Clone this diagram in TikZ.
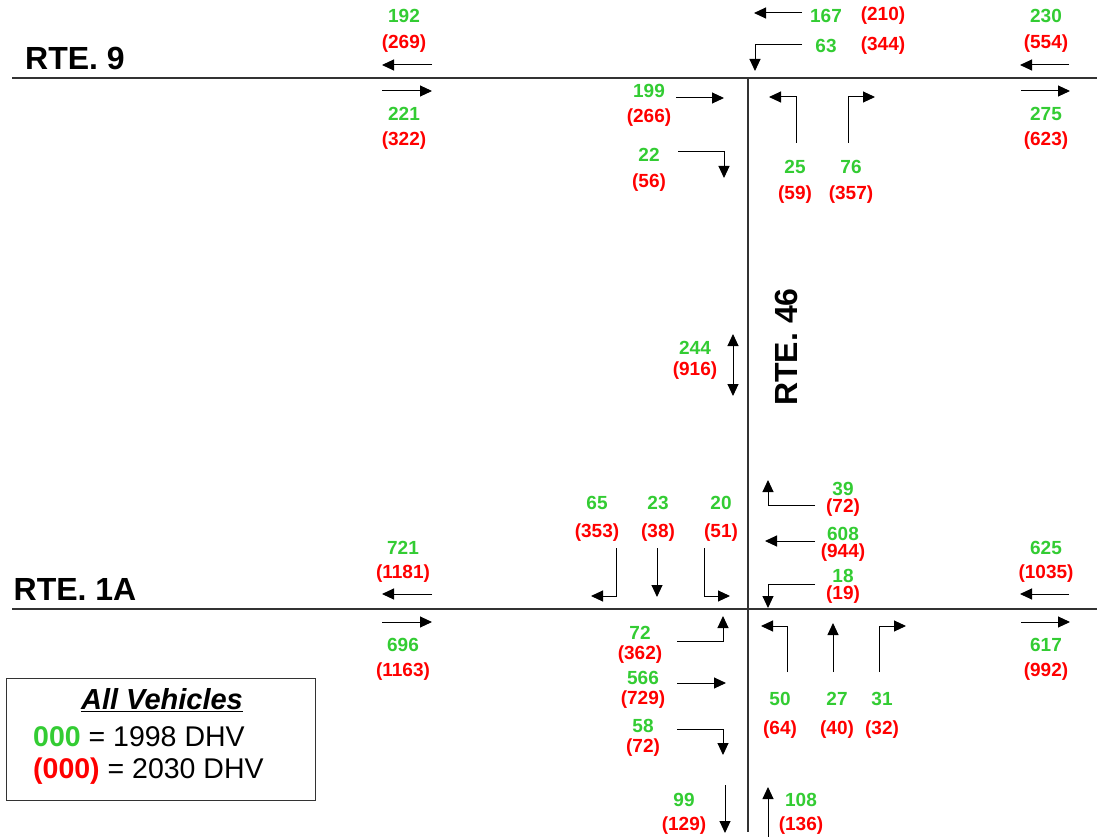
\documentclass[tikz,border=0pt]{standalone}
\usepackage{fontspec}
\setmainfont{Liberation Sans}
\usetikzlibrary{arrows.meta}
\definecolor{grn}{RGB}{51,204,51}
\definecolor{rd}{RGB}{255,0,0}
\begin{document}
\begin{tikzpicture}[x=1pt,y=-1pt,
  g/.style={text=grn,font=\fontsize{19}{20}\selectfont\bfseries,inner sep=0pt},
  r/.style={text=rd,font=\fontsize{19}{20}\selectfont\bfseries,inner sep=0pt},
  arr/.style={-{Triangle[length=12pt,width=11pt]},line width=1pt},
  darr/.style={{Triangle[length=12pt,width=11pt]}-{Triangle[length=12pt,width=11pt]},line width=1pt},
  road/.style={line width=1.4pt,draw=black!80},
  rte/.style={font=\fontsize{32}{34}\selectfont\bfseries,inner sep=0pt}]
\useasboundingbox (0,0) rectangle (1097,837);
\fill[white] (0,0) rectangle (1097,837);
% roads
\draw[road] (12,78) -- (1097,78);
\draw[road] (12,609) -- (1097,609);
\draw[road] (748,78) -- (748,832);
\node[rte] (rte9) at (75,58) {RTE. 9};
\node[rte] (rte1a) at (75,589) {RTE. 1A};
\node[rte,rotate=90] (rte46) at (786,347) {RTE. 46};
% RTE 9 west
\node[g] (a1) at (404,16) {192};
\node[r] (a2) at (404,44) {(269)};
\draw[arr] (432,65) -- (382,65);
\draw[arr] (382,91) -- (432,91);
\node[g] (a3) at (404,114) {221};
\node[r] (a4) at (404,141) {(322)};
% RTE 9 east
\node[g] (b1) at (1046,16) {230};
\node[r] (b2) at (1046,44) {(554)};
\draw[arr] (1069,65) -- (1020,65);
\draw[arr] (1021,91) -- (1070,91);
\node[g] (b3) at (1046,114) {275};
\node[r] (b4) at (1046,141) {(623)};
% top intersection, southbound approach
\draw[arr] (802,13) -- (754,13);
\node[g] (c1) at (826,16) {167};
\node[r] (c2) at (883,16) {(210)};
\draw[arr] (802,45) -- (755,45) -- (755,71);
\node[g] (c3) at (826,46) {63};
\node[r] (c4) at (883,46) {(344)};
% eastbound at top intersection
\node[g] (d1) at (649,91) {199};
\node[r] (d2) at (649,118) {(266)};
\draw[arr] (676,98) -- (724,98);
\node[g] (d3) at (649,155) {22};
\node[r] (d4) at (649,183) {(56)};
\draw[arr] (678,152) -- (724,152) -- (724,178);
% northbound at top intersection
\draw[arr] (796,143) -- (796,97) -- (769,97);
\draw[arr] (848,143) -- (848,97) -- (875,97);
\node[g] (e1) at (795,167) {25};
\node[r] (e2) at (795,195) {(59)};
\node[g] (e3) at (851,167) {76};
\node[r] (e4) at (851,195) {(357)};
% mid link
\node[g] (f1) at (695,348) {244};
\node[r] (f2) at (695,371) {(916)};
\draw[darr] (733,334) -- (733,396);
% RTE 1A west
\node[g] (h1) at (403,548) {721};
\node[r] (h2) at (403,574) {(1181)};
\draw[arr] (432,594) -- (382,594);
\draw[arr] (382,622) -- (432,622);
\node[g] (h3) at (403,645) {696};
\node[r] (h4) at (403,672) {(1163)};
% RTE 1A east
\node[g] (i1) at (1046,548) {625};
\node[r] (i2) at (1046,574) {(1035)};
\draw[arr] (1069,594) -- (1020,594);
\draw[arr] (1021,622) -- (1070,622);
\node[g] (i3) at (1046,645) {617};
\node[r] (i4) at (1046,672) {(992)};
% southbound at bottom intersection
\node[g] (j1) at (597,503) {65};
\node[r] (j2) at (597,533) {(353)};
\node[g] (j3) at (658,503) {23};
\node[r] (j4) at (658,533) {(38)};
\node[g] (j5) at (721,503) {20};
\node[r] (j6) at (721,533) {(51)};
\draw[arr] (616,548) -- (616,596) -- (591,596);
\draw[arr] (657,548) -- (657,597);
\draw[arr] (704,548) -- (704,596) -- (730,596);
% westbound at bottom intersection
\node[g] (k1) at (843,489) {39};
\node[r] (k2) at (843,508) {(72)};
\draw[arr] (815,505) -- (768,505) -- (768,480);
\node[g] (k3) at (843,534) {608};
\node[r] (k4) at (843,553) {(944)};
\draw[arr] (815,541) -- (765,541);
\node[g] (k5) at (843,576) {18};
\node[r] (k6) at (843,595) {(19)};
\draw[arr] (815,584) -- (768,584) -- (768,608);
% eastbound at bottom intersection
\node[g] (l1) at (640,633) {72};
\node[r] (l2) at (640,655) {(362)};
\draw[arr] (677,641) -- (723,641) -- (723,616);
\node[g] (l3) at (643,678) {566};
\node[r] (l4) at (643,700) {(729)};
\draw[arr] (677,683) -- (726,683);
\node[g] (l5) at (643,726) {58};
\node[r] (l6) at (643,748) {(72)};
\draw[arr] (677,729) -- (723,729) -- (723,755);
% northbound at bottom intersection
\draw[arr] (787,672) -- (787,626) -- (761,626);
\draw[arr] (833,672) -- (833,623);
\draw[arr] (879,672) -- (879,626) -- (906,626);
\node[g] (m1) at (780,699) {50};
\node[r] (m2) at (780,730) {(64)};
\node[g] (m3) at (837,699) {27};
\node[r] (m4) at (837,730) {(40)};
\node[g] (m5) at (882,699) {31};
\node[r] (m6) at (882,730) {(32)};
% south leg
\node[g] (n1) at (684,800) {99};
\node[r] (n2) at (684,826) {(129)};
\draw[arr] (725,785) -- (725,833);
\node[g] (n3) at (801,800) {108};
\node[r] (n4) at (801,826) {(136)};
\draw[arr] (768,837) -- (768,787);
% legend
\draw[line width=1pt,draw=black!80] (6,678) rectangle (315,800);
\node[inner sep=0pt,font=\fontsize{29}{30}\selectfont\bfseries\itshape] (lg0) at (162,700) {\underline{All Vehicles}};
\node[anchor=west,inner sep=0pt,font=\fontsize{28.5}{30}\selectfont] (lg1) at (33,737) {\textcolor{grn}{\bfseries 000} = 1998 DHV};
\node[anchor=west,inner sep=0pt,font=\fontsize{28.5}{30}\selectfont] (lg2) at (33,771) {\textcolor{rd}{\bfseries (000)} = 2030 DHV};
\end{tikzpicture}
\end{document}
